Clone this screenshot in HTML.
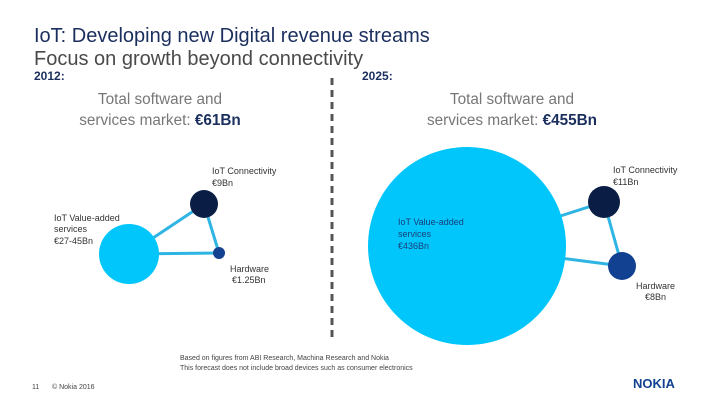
<!DOCTYPE html>
<html><head><meta charset="utf-8"><style>
body{margin:0;width:720px;height:405px;background:#fff;overflow:hidden;font-family:"Liberation Sans",sans-serif}
svg{display:block}
</style></head><body>
<svg id="s" width="720" height="405" viewBox="0 0 720 405">
<text x="34" y="42" font-size="20" fill="#1b2f5e">IoT: Developing new Digital revenue streams</text>
<text x="34" y="65" font-size="20" fill="#4a4a4a">Focus on growth beyond connectivity</text>
<text x="34" y="80" font-size="12" font-weight="bold" fill="#1b2f5e">2012:</text>
<text x="362" y="80" font-size="12" font-weight="bold" fill="#1b2f5e">2025:</text>
<line x1="332" y1="78" x2="332" y2="340" stroke="#555" stroke-width="3" stroke-dasharray="7,5"/>
<g font-size="15.3" fill="#777" text-anchor="middle">
<text x="160" y="104">Total software and</text>
<text x="160" y="125">services market: <tspan fill="#1b2f5e" font-weight="bold">€61Bn</tspan></text>
<text x="512" y="104">Total software and</text>
<text x="512" y="125">services market: <tspan fill="#1b2f5e" font-weight="bold">€455Bn</tspan></text>
</g>
<g id="net"></g>
<g font-size="9" fill="#333">
<text x="212" y="174">IoT Connectivity</text>
<text x="212" y="186">€9Bn</text>
<text x="54" y="221">IoT Value-added</text>
<text x="54" y="232">services</text>
<text x="54" y="244">€27-45Bn</text>
<text x="230" y="272">Hardware</text>
<text x="232" y="283">€1.25Bn</text>
<text x="613" y="173">IoT Connectivity</text>
<text x="613" y="185">€11Bn</text>
<text x="398" y="225" fill="#1b3f7a">IoT Value-added</text>
<text x="398" y="237" fill="#1b3f7a">services</text>
<text x="398" y="249" fill="#1b3f7a">€436Bn</text>
<text x="636" y="289">Hardware</text>
<text x="645" y="300">€8Bn</text>
</g>
<g font-size="7" fill="#444">
<text x="180" y="360">Based on figures from ABI Research, Machina Research and Nokia</text>
<text x="180" y="370">This forecast does not include broad devices such as consumer electronics</text>
<text x="32" y="389">11</text>
<text x="52" y="389">© Nokia 2016</text>
</g>
<text x="633" y="388" font-size="13" font-weight="bold" fill="#124191">NOKIA</text>
</svg>
<script>
const categories = ["Value-added services","Connectivity","Hardware"];
const radii2012 = [30,14,6];
const radii2025 = [99,16,14];
const centers2012X = [129,204,219];
const centers2012Y = [254,204,253];
const centers2025X = [467,604,622];
const centers2025Y = [246,202,266];
const colors = ["#00c6fb","#0a1e45","#124191"];
const ns="http://www.w3.org/2000/svg";
const g=document.getElementById('net');
function draw(cx,cy,r,yr){
  [[0,1],[0,2],[1,2]].forEach(([a,b])=>{
    const l=document.createElementNS(ns,'line');
    l.setAttribute('x1',cx[a]);l.setAttribute('y1',cy[a]);l.setAttribute('x2',cx[b]);l.setAttribute('y2',cy[b]);
    l.setAttribute('stroke','#2fb5e3');l.setAttribute('stroke-width','3');
    
    
    g.appendChild(l);
  });
  for(let i=0;i<3;i++){
    const c=document.createElementNS(ns,'circle');
    c.setAttribute('cx',cx[i]);c.setAttribute('cy',cy[i]);c.setAttribute('r',r[i]);c.setAttribute('fill',colors[i]);
    
    
    g.appendChild(c);
  }
}
draw(centers2012X,centers2012Y,radii2012,'2012');
draw(centers2025X,centers2025Y,radii2025,'2025');
</script>
</body></html>
